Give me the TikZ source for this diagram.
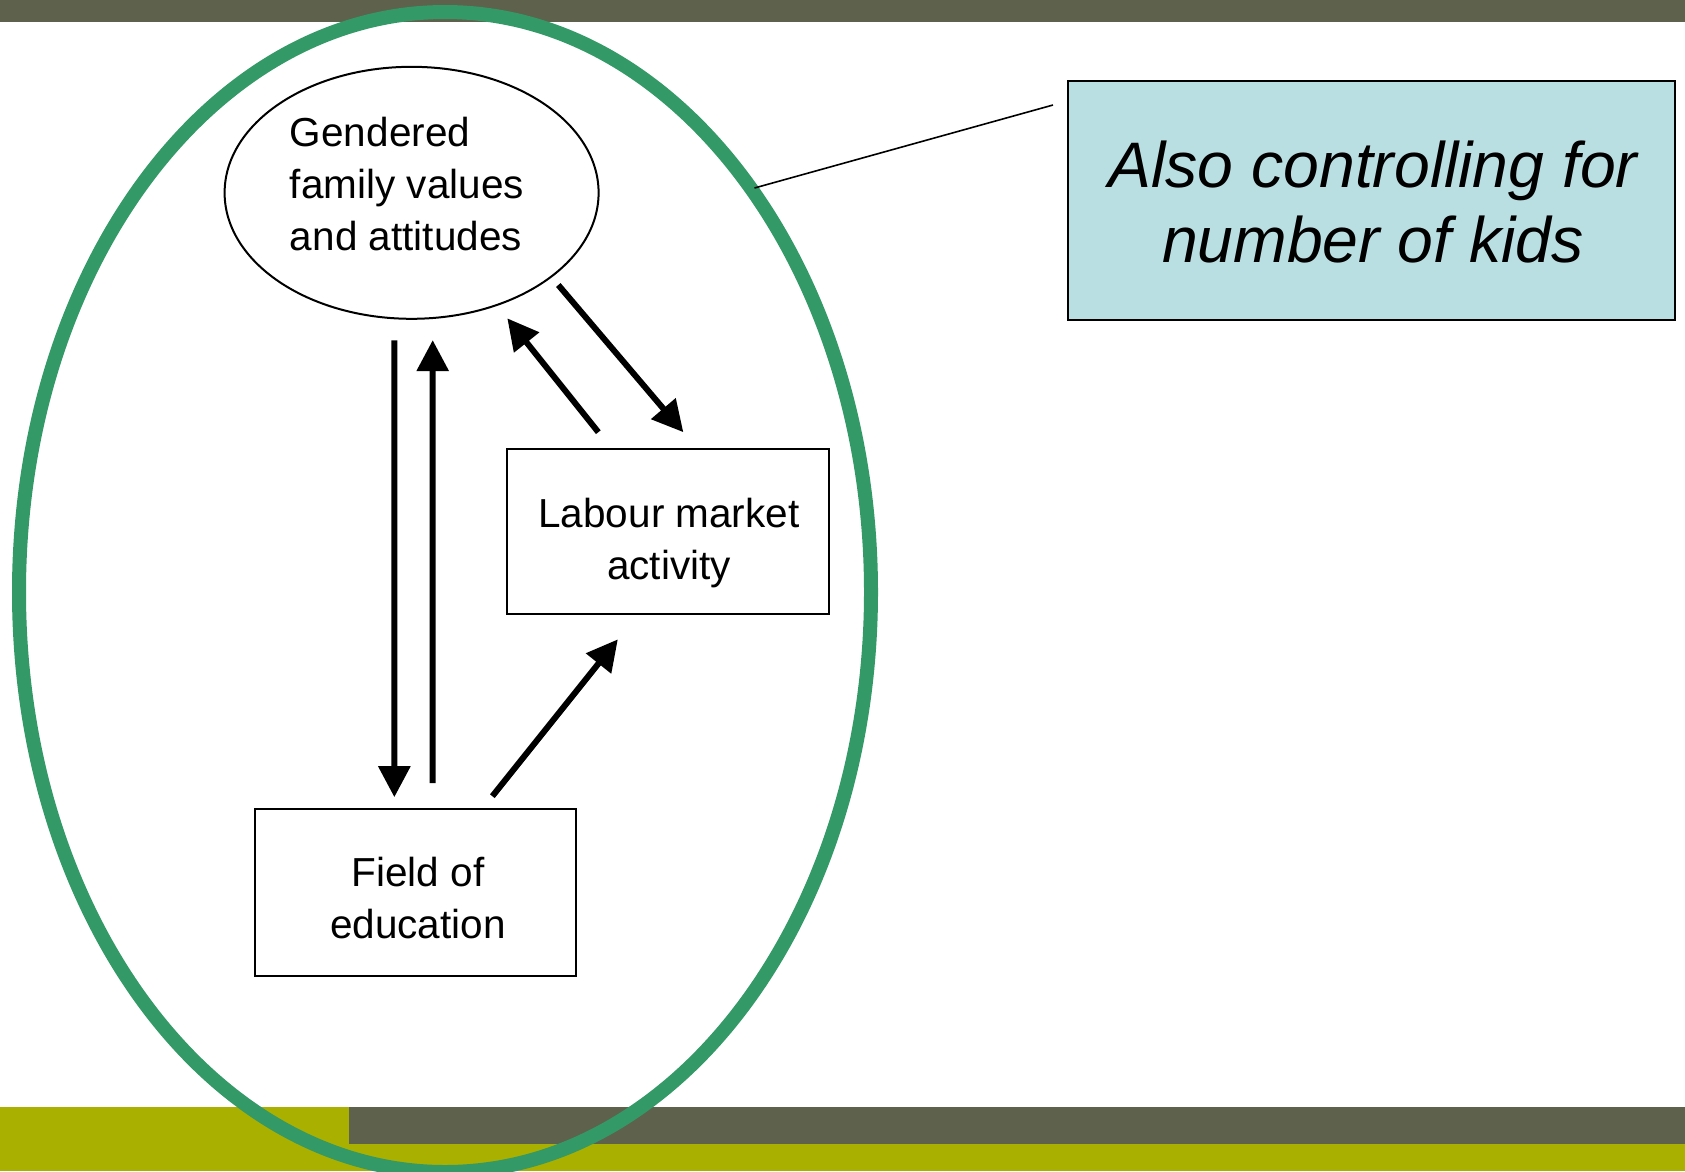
\documentclass[tikz,border=0pt]{standalone}
\usepackage{fontspec}
\setmainfont{Liberation Sans}
\usetikzlibrary{shapes.geometric,arrows.meta,calc}
\definecolor{barolive}{RGB}{94,97,75}
\definecolor{baryellow}{RGB}{170,176,0}
\definecolor{ringgreen}{RGB}{51,153,102}
\definecolor{notefill}{RGB}{186,223,226}
\begin{document}
\begin{tikzpicture}[x=1pt,y=-1pt,
  bodytext/.style={font=\fontsize{40.5}{52}\selectfont, inner sep=0pt},
  notetext/.style={font=\fontsize{64.3}{75}\selectfont\itshape, inner sep=0pt, align=center},
  framebox/.style={draw, line width=2pt, inner sep=0pt},
  arr/.style={line width=6pt, -{Triangle[length=31pt,width=31pt]}},
  callout/.style={line width=1.6pt}]
\useasboundingbox (0,0) rectangle (1685,1171);
% bars
\fill[barolive] (0,0) rectangle (1685,22);
\fill[baryellow] (0,1107) rectangle (1685,1171);
\fill[barolive] (349,1107) rectangle (1685,1144);
% big ring
\node[draw=ringgreen, line width=14pt, ellipse, minimum width=852pt, minimum height=1160pt, inner sep=0pt] (ring) at (445,592) {};
% nodes
\node[draw, line width=2pt, ellipse, minimum width=374pt, minimum height=252pt, inner sep=0pt] (gfv) at (411.6,192.8) {};
\node[bodytext, align=left] (gfvtext) at (407,184) {Gendered\\family values\\and attitudes};
\node[framebox, minimum width=321.3pt, minimum height=164.4pt] (lab) at (667.85,531.4) {};
\node[bodytext, align=center] (labtext) at (669,543) {Labour market\\activity};
\node[framebox, minimum width=321.3pt, minimum height=166.6pt] (foe) at (415.35,892.5) {};
\node[bodytext, align=center] (foetext) at (418,898.4) {Field of\\education};
\node[framebox, fill=notefill, minimum width=607.3pt, minimum height=239.6pt] (note) at (1371.6,200.4) {};
\node[notetext] (notetext) at (1373,202) {Also controlling for\\number of kids};
% arrows
\draw[arr] ($(gfv.south)+(-17.2,20.6)$) -- ($(foe.north)+(-21,-11)$);
\draw[arr] ($(foe.north)+(17.2,-25)$) -- ($(gfv.south)+(21.1,20.3)$);
\draw[arr] ($(lab.north)+(-69.5,-16)$) -- ($(gfv.center)+(95.7,125.5)$);
\draw[arr] ($(gfv.center)+(146.7,92.2)$) -- ($(lab.north)+(15.5,-16)$);
\draw[arr] ($(foe.north)+(77,-12)$) -- ($(lab.south)+(-50,24.7)$);
% callout
\coordinate (callA) at (754.5,188);
\coordinate (callB) at (1053,105);
\draw[callout] (callA) -- (callB);
\end{tikzpicture}
\end{document}
